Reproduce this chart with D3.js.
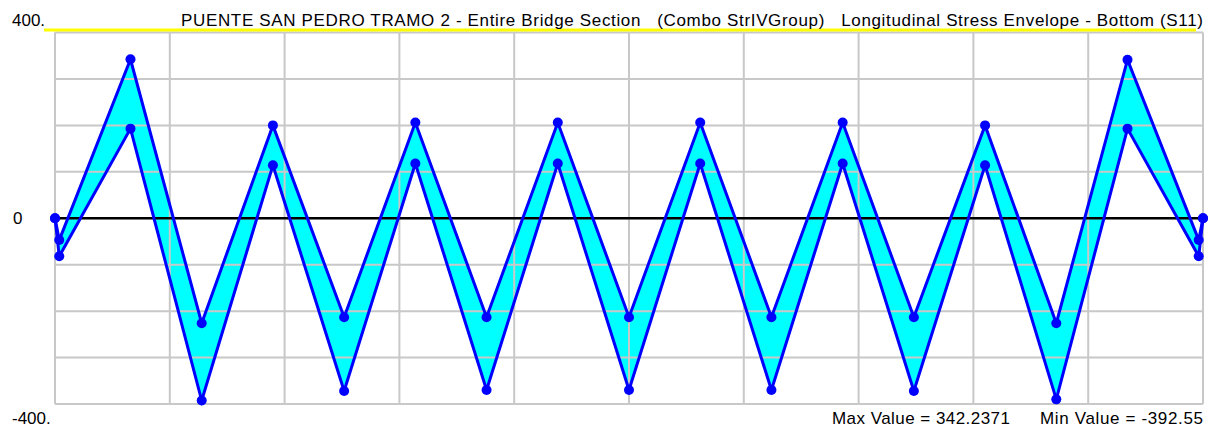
<!DOCTYPE html>
<html>
<head>
<meta charset="utf-8">
<script src="https://cdn.jsdelivr.net/npm/d3@7"></script>
<style>
  html, body { margin: 0; padding: 0; background: #ffffff; }
  svg { display: block; }
  text { font-family: "Liberation Sans", Arial, sans-serif; fill: #000; }
</style>
</head>
<body>
<svg id="chart" width="1214" height="427"></svg>
<script>
// Stations along the bridge (m): end, girder nodes every 5 m, end
const stations = [0, 0.3, 5.3, 10.3, 15.3, 20.3, 25.3, 30.3, 35.3, 40.3, 45.3, 50.3, 55.3, 60.3, 65.3, 70.3, 75.3, 80.3, 80.6];

// Envelope of longitudinal stress at bottom fibre (S11)
const maxVals = [0, -47, 342.2371, -226, 200, -213, 206, -213, 206, -213, 206, -213, 206, -213, 200, -226, 341.5, -47, 0];
const minVals = [0, -82, 193, -392.55, 114, -372, 118, -370, 118, -370, 118, -370, 118, -372, 114, -390, 193, -82, 0];

// Axis labels
const yLabels = [{ v: 400, t: "400." }, { v: 0, t: "0" }, { v: -400, t: "-400." }];
const yGridValues = [-400, -300, -200, -100, 0, 100, 200, 300, 400];
const titleText = "PUENTE SAN PEDRO TRAMO 2 - Entire Bridge Section   (Combo StrIVGroup)   Longitudinal Stress Envelope - Bottom (S11)";
const maxLabel = "Max Value = 342.2371";
const minLabel = "Min Value = -392.55";

const svg = d3.select("#chart");
const plotLeft = 55, plotRight = 1203, plotTop = 32.5, plotBottom = 404;

const x = d3.scaleLinear().domain([0, 80.6]).range([plotLeft, plotRight]);
const y = d3.scaleLinear().domain([-400, 400]).range([plotBottom, plotTop]);

const data = stations.map((s, i) => ({ s, max: maxVals[i], min: minVals[i] }));

// Band between envelopes
svg.append("path")
  .datum(data)
  .attr("fill", "#00ffff")
  .attr("d", d3.area().x(d => x(d.s)).y0(d => y(d.min)).y1(d => y(d.max)));

// Grid (drawn over the band)
const grid = svg.append("g").attr("stroke", "#c8c8c8").attr("stroke-width", 2);
const xGrid = d3.range(0, 11).map(i => x.domain()[1] * i / 10);
grid.selectAll("line.v").data(xGrid).join("line")
  .attr("x1", d => x(d)).attr("x2", d => x(d))
  .attr("y1", plotTop).attr("y2", plotBottom);
grid.selectAll("line.h").data(yGridValues).join("line")
  .attr("x1", plotLeft).attr("x2", plotRight)
  .attr("y1", d => y(d)).attr("y2", d => y(d));

// Zero line
svg.append("line")
  .attr("x1", plotLeft).attr("x2", plotRight)
  .attr("y1", y(0)).attr("y2", y(0))
  .attr("stroke", "#000").attr("stroke-width", 2.5);

// Envelope lines and nodes
const line = key => d3.line().x(d => x(d.s)).y(d => y(d[key]));
["max", "min"].forEach(key => {
  svg.append("path").datum(data)
    .attr("fill", "none").attr("stroke", "#0000ff").attr("stroke-width", 3)
    .attr("d", line(key));
  svg.append("g").selectAll("circle").data(data).join("circle")
    .attr("cx", d => x(d.s)).attr("cy", d => y(d[key]))
    .attr("r", 5).attr("fill", "#0000ff");
});

// Title with yellow underline
svg.append("line")
  .attr("x1", 44).attr("x2", 1196).attr("y1", 30).attr("y2", 30)
  .attr("stroke", "#ffff00").attr("stroke-width", 3);
svg.append("text")
  .attr("x", 181).attr("y", 26)
  .attr("font-size", 17)
  .attr("xml:space", "preserve")
  .style("white-space", "pre")
  .attr("textLength", 1022).attr("lengthAdjust", "spacing")
  .text(titleText);

// Y labels
svg.append("g").selectAll("text").data(yLabels).join("text")
  .attr("x", d => d.v === 0 ? 13 : 12)
  .attr("y", d => d.v === 400 ? 26 : d.v === -400 ? 424 : y(0) + 6)
  .attr("font-size", 17)
  .text(d => d.t);

// Extremes
svg.append("text").attr("x", 832).attr("y", 424).attr("font-size", 17)
  .attr("textLength", 178).attr("lengthAdjust", "spacing").text(maxLabel);
svg.append("text").attr("x", 1040).attr("y", 424).attr("font-size", 17)
  .attr("textLength", 163).attr("lengthAdjust", "spacing").text(minLabel);
</script>
</body>
</html>
